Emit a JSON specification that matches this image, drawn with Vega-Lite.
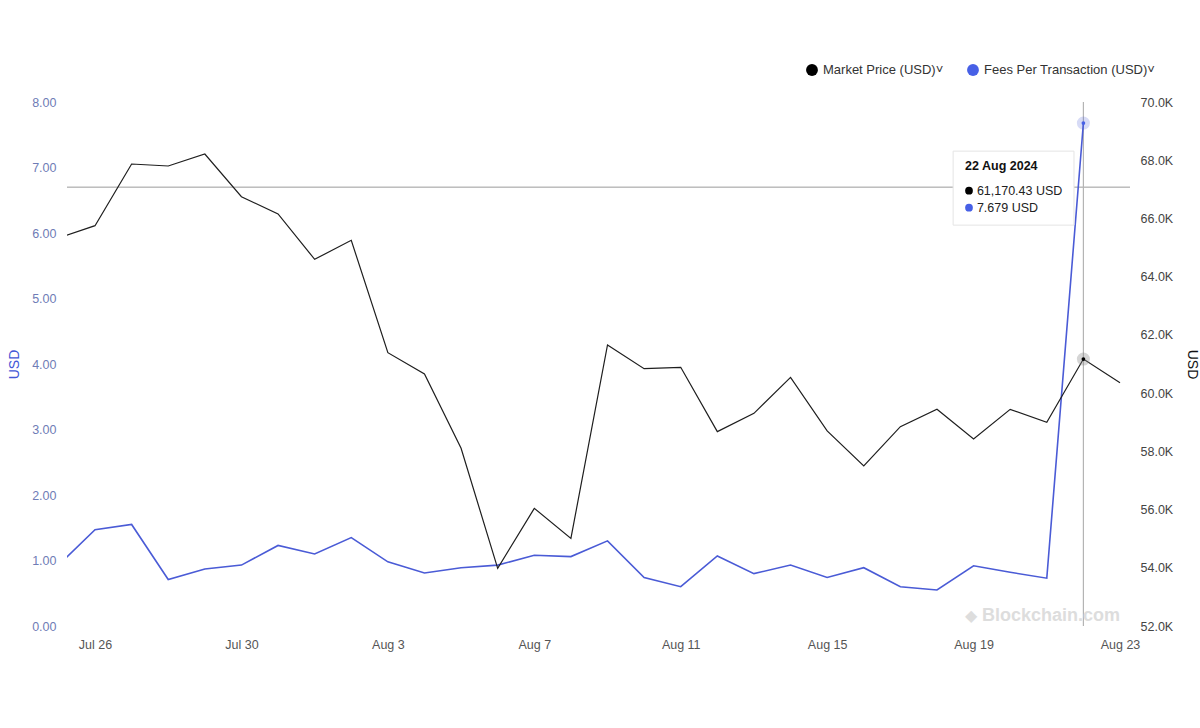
{
  "$schema": "https://vega.github.io/schema/vega-lite/v6.json",
  "width": 1063,
  "height": 524,
  "autosize": {"type": "none"},
  "padding": {"left": 67, "top": 102, "right": 70, "bottom": 102},
  "background": "#ffffff",
  "config": {
    "view": {"stroke": null},
    "font": "Liberation Sans",
    "axis": {"grid": false, "ticks": false, "domain": false, "labelFontSize": 12.5},
    "legend": {
      "orient": "none", "legendX": 738, "legendY": -39, "direction": "horizontal",
      "padding": 0, "labelFontSize": 13, "labelColor": "#333333", "symbolSize": 140,
      "symbolType": "circle", "columnPadding": 22, "labelOffset": 4, "title": null, "labelLimit": 400
    }
  },
  "data": {
    "values": [
      {"date": "2024-07-25T00:00:00", "price": 65330, "fee": 0.93},
      {"date": "2024-07-26T00:00:00", "price": 65751, "fee": 1.47},
      {"date": "2024-07-27T00:00:00", "price": 67870, "fee": 1.55},
      {"date": "2024-07-28T00:00:00", "price": 67802, "fee": 0.71},
      {"date": "2024-07-29T00:00:00", "price": 68214, "fee": 0.87},
      {"date": "2024-07-30T00:00:00", "price": 66748, "fee": 0.93},
      {"date": "2024-07-31T00:00:00", "price": 66153, "fee": 1.23},
      {"date": "2024-08-01T00:00:00", "price": 64596, "fee": 1.10},
      {"date": "2024-08-02T00:00:00", "price": 65248, "fee": 1.35},
      {"date": "2024-08-03T00:00:00", "price": 61389, "fee": 0.98},
      {"date": "2024-08-04T00:00:00", "price": 60656, "fee": 0.81},
      {"date": "2024-08-05T00:00:00", "price": 58103, "fee": 0.89},
      {"date": "2024-08-06T00:00:00", "price": 53981, "fee": 0.93},
      {"date": "2024-08-07T00:00:00", "price": 56042, "fee": 1.08},
      {"date": "2024-08-08T00:00:00", "price": 55011, "fee": 1.06},
      {"date": "2024-08-09T00:00:00", "price": 61653, "fee": 1.30},
      {"date": "2024-08-10T00:00:00", "price": 60840, "fee": 0.74},
      {"date": "2024-08-11T00:00:00", "price": 60886, "fee": 0.60},
      {"date": "2024-08-12T00:00:00", "price": 58676, "fee": 1.07},
      {"date": "2024-08-13T00:00:00", "price": 59305, "fee": 0.80},
      {"date": "2024-08-14T00:00:00", "price": 60542, "fee": 0.93},
      {"date": "2024-08-15T00:00:00", "price": 58700, "fee": 0.74},
      {"date": "2024-08-16T00:00:00", "price": 57496, "fee": 0.89},
      {"date": "2024-08-17T00:00:00", "price": 58847, "fee": 0.60},
      {"date": "2024-08-18T00:00:00", "price": 59443, "fee": 0.55},
      {"date": "2024-08-19T00:00:00", "price": 58424, "fee": 0.92},
      {"date": "2024-08-20T00:00:00", "price": 59443, "fee": 0.82},
      {"date": "2024-08-21T00:00:00", "price": 58996, "fee": 0.73},
      {"date": "2024-08-22T00:00:00", "price": 61170.43, "fee": 7.679},
      {"date": "2024-08-23T00:00:00", "price": 60359, "fee": null}
    ]
  },
  "encoding": {
    "x": {
      "field": "date", "type": "temporal",
      "scale": {"domain": [
        {"year": 2024, "month": 7, "date": 25, "hours": 5, "minutes": 38},
        {"year": 2024, "month": 8, "date": 23, "hours": 6, "minutes": 33}
      ]},
      "axis": {
        "title": null, "format": "%b %-d", "labelColor": "#555555", "labelPadding": 12,
        "values": [
          {"year": 2024, "month": 7, "date": 26},
          {"year": 2024, "month": 7, "date": 30},
          {"year": 2024, "month": 8, "date": 3},
          {"year": 2024, "month": 8, "date": 7},
          {"year": 2024, "month": 8, "date": 11},
          {"year": 2024, "month": 8, "date": 15},
          {"year": 2024, "month": 8, "date": 19},
          {"year": 2024, "month": 8, "date": 23}
        ]
      }
    }
  },
  "layer": [
    {
      "layer": [
        {
          "transform": [{"filter": "datum.fee > 7"}],
          "mark": {"type": "rule", "color": "#9a9a9a", "strokeWidth": 1},
          "encoding": {
            "x": {"datum": {"year": 2024, "month": 7, "date": 25, "hours": 5, "minutes": 38}},
            "x2": {"datum": {"year": 2024, "month": 8, "date": 23, "hours": 6, "minutes": 33}},
            "y": {"datum": 6.70}
          }
        },
        {
          "transform": [{"filter": "datum.fee > 7"}],
          "mark": {"type": "rule", "color": "#b4b4b4", "strokeWidth": 1.2},
          "encoding": {}
        },
        {
          "mark": {"type": "line", "color": "#4a5bd6", "strokeWidth": 1.6, "clip": true},
          "encoding": {
            "y": {
              "field": "fee", "type": "quantitative",
              "scale": {"domain": [0, 8], "nice": false, "zero": false},
              "axis": {
                "orient": "left", "values": [0, 1, 2, 3, 4, 5, 6, 7, 8], "format": ".2f",
                "labelColor": "#6f7cb6", "labelPadding": 11,
                "title": "USD", "titleColor": "#4257d6", "titleFontSize": 14,
                "titleFontWeight": "normal", "titlePadding": 10
              }
            }
          }
        },
        {
          "transform": [{"filter": "datum.fee > 7"}],
          "mark": {"type": "rect", "fill": "#ffffff", "stroke": "#e4e4e4", "strokeWidth": 1},
          "encoding": {
            "x": {"datum": {"year": 2024, "month": 8, "date": 18, "hours": 10, "minutes": 35}},
            "x2": {"datum": {"year": 2024, "month": 8, "date": 21, "hours": 17, "minutes": 50}},
            "y": {"datum": 7.25},
            "y2": {"datum": 6.12}
          }
        },
        {
          "transform": [{"filter": "datum.fee > 7"}],
          "mark": {"type": "text", "text": "22 Aug 2024", "fontWeight": "bold", "fontSize": 12.5, "color": "#111111", "align": "left", "baseline": "middle"},
          "encoding": {
            "x": {"datum": {"year": 2024, "month": 8, "date": 18, "hours": 18, "minutes": 25}},
            "y": {"datum": 7.02}
          }
        },
        {
          "transform": [{"filter": "datum.fee > 7"}],
          "mark": {"type": "text", "text": "61,170.43 USD", "fontSize": 12.5, "color": "#222222", "align": "left", "baseline": "middle"},
          "encoding": {
            "x": {"datum": {"year": 2024, "month": 8, "date": 19, "hours": 2, "minutes": 10}},
            "y": {"datum": 6.646}
          }
        },
        {
          "transform": [{"filter": "datum.fee > 7"}],
          "mark": {"type": "text", "text": "7.679 USD", "fontSize": 12.5, "color": "#222222", "align": "left", "baseline": "middle"},
          "encoding": {
            "x": {"datum": {"year": 2024, "month": 8, "date": 19, "hours": 2, "minutes": 10}},
            "y": {"datum": 6.386}
          }
        },
        {
          "transform": [{"filter": "datum.fee > 7"}],
          "mark": {"type": "point", "filled": true, "fill": "#000000", "size": 60, "opacity": 1},
          "encoding": {
            "x": {"datum": {"year": 2024, "month": 8, "date": 18, "hours": 21, "minutes": 0}},
            "y": {"datum": 6.646}
          }
        },
        {
          "transform": [{"filter": "datum.fee > 7"}],
          "mark": {"type": "point", "filled": true, "fill": "#4760e6", "size": 60, "opacity": 1},
          "encoding": {
            "x": {"datum": {"year": 2024, "month": 8, "date": 18, "hours": 21, "minutes": 0}},
            "y": {"datum": 6.386}
          }
        },
        {
          "transform": [{"filter": "datum.fee > 7"}],
          "mark": {"type": "text", "text": "◆", "fontSize": 16, "color": "#dddddd", "align": "center", "baseline": "middle"},
          "encoding": {
            "x": {"datum": {"year": 2024, "month": 8, "date": 18, "hours": 22, "minutes": 20}},
            "y": {"datum": 0.16}
          }
        },
        {
          "transform": [{"filter": "datum.fee > 7"}],
          "mark": {"type": "text", "text": "Blockchain.com", "fontSize": 18, "fontWeight": "bold", "color": "#dddddd", "align": "left", "baseline": "middle"},
          "encoding": {
            "x": {"datum": {"year": 2024, "month": 8, "date": 19, "hours": 5, "minutes": 30}},
            "y": {"datum": 0.16}
          }
        },
        {
          "transform": [{"filter": "datum.fee > 7"}],
          "mark": {"type": "point", "filled": true, "color": "#4a5bd6", "opacity": 0.22, "size": 170},
          "encoding": {"y": {"field": "fee", "type": "quantitative"}}
        },
        {
          "transform": [{"filter": "datum.fee > 7"}],
          "mark": {"type": "point", "filled": true, "opacity": 1, "size": 14},
          "encoding": {
            "y": {"field": "fee", "type": "quantitative"},
            "color": {
              "datum": "Fees Per Transaction (USD)",
              "scale": {"domain": ["Market Price (USD)", "Fees Per Transaction (USD)"], "range": ["#000000", "#4760e6"]},
              "legend": {"labelExpr": "datum.label + '˅'"}
            }
          }
        }
      ]
    },
    {
      "layer": [
        {
          "mark": {"type": "line", "color": "#1e1e1e", "strokeWidth": 1.2, "clip": true},
          "encoding": {
            "y": {
              "field": "price", "type": "quantitative",
              "scale": {"domain": [52000, 70000], "nice": false, "zero": false},
              "axis": {
                "orient": "right", "values": [52000, 54000, 56000, 58000, 60000, 62000, 64000, 66000, 68000, 70000],
                "labelExpr": "format(datum.value / 1000, '.1f') + 'K'",
                "labelColor": "#444444", "labelPadding": 10,
                "title": "USD", "titleColor": "#111111", "titleFontSize": 14, "titleFontWeight": "normal",
                "titleAngle": 90, "titlePadding": 12
              }
            }
          }
        },
        {
          "transform": [{"filter": "datum.price == 61170.43"}],
          "mark": {"type": "point", "filled": true, "color": "#888888", "opacity": 0.35, "size": 170},
          "encoding": {"y": {"field": "price", "type": "quantitative"}}
        },
        {
          "transform": [{"filter": "datum.price == 61170.43"}],
          "mark": {"type": "point", "filled": true, "opacity": 1, "size": 14},
          "encoding": {
            "y": {"field": "price", "type": "quantitative"},
            "color": {"datum": "Market Price (USD)"}
          }
        }
      ]
    }
  ],
  "resolve": {"scale": {"y": "independent"}}
}
